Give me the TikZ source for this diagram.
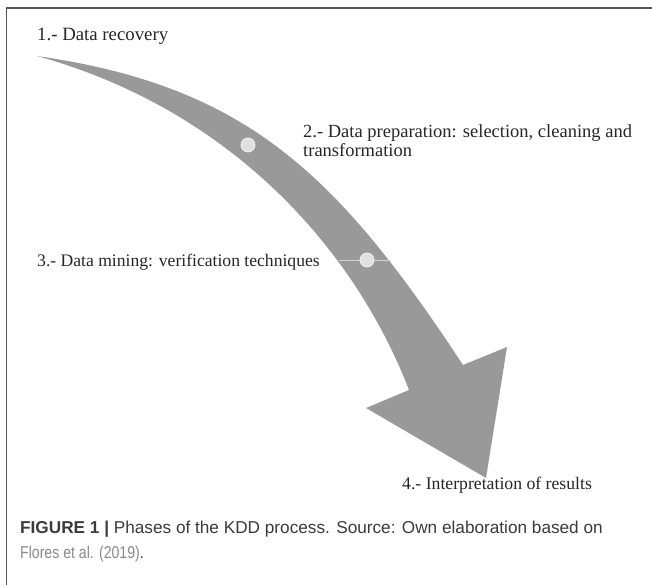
\documentclass[tikz,border=0pt]{standalone}
\usepackage{fontspec}
\setmainfont{Liberation Serif}
\newfontfamily\capfont{Liberation Sans}
\newfontfamily\capnarrow[FakeStretch=0.82]{Liberation Sans}
\definecolor{arrowgray}{HTML}{999999}
\definecolor{dotgray}{HTML}{E0E0E0}
\definecolor{framegray}{HTML}{555555}
\definecolor{captxt}{HTML}{3A3A3A}
\definecolor{caplink}{HTML}{8A8A8A}
\tikzset{
  lbl/.style={anchor=base west, inner sep=0pt, text=black!85},
  caplbl/.style={anchor=base west, inner sep=0pt, font=\capfont\fontsize{17.2}{20}\selectfont, text=captxt},
  dot/.style={circle, fill=dotgray, draw=white!95!black, line width=0.8pt, minimum size=14pt, inner sep=0pt},
}
\begin{document}
\begin{tikzpicture}[x=1pt,y=-1pt]
\useasboundingbox (0,0) rectangle (652,585);
% frame
\draw[framegray, line width=1.5pt] (6.5,585) -- (6.5,8) -- (652,8);
% curved arrow
\fill[arrowgray]
  (37,56) .. controls (245,86) and (336,172) .. (463,365)
  -- (507,347) -- (486,478) -- (366,408) -- (409,390)
  .. controls (355,250) and (232,110) .. (37,56)
  -- cycle;
% markers
\coordinate (la) at (339,260);
\coordinate (lb) at (391,260);
\draw[white!82!black, line width=0.8pt] (la) -- (lb);
\node[dot] (d1) at (248,145) {};
\node[dot] (d2) at (367,260) {};
% labels
\node[lbl, font=\fontsize{18.8}{20}\selectfont] (t1) at (37,41) {1.- Data recovery};
\node[lbl, align=left, font=\fontsize{18.5}{19.5}\selectfont] (t2) at (303,157) {2.- Data preparation: selection, cleaning and\\transformation};
\node[lbl, font=\fontsize{17.6}{20}\selectfont] (t3) at (37,266) {3.- Data mining: verification techniques};
\node[lbl, font=\fontsize{17.7}{20}\selectfont] (t4) at (402,489) {4.- Interpretation of results};
% caption
\node[caplbl] (c1) at (20,533) {\textbf{FIGURE 1 |} Phases of the KDD process. Source: Own elaboration based on};
\node[caplbl, font=\capnarrow\fontsize{17.2}{20}\selectfont] (c2) at (20,558) {\textcolor{caplink}{Flores et al. (2019)}.};
\end{tikzpicture}
\end{document}
